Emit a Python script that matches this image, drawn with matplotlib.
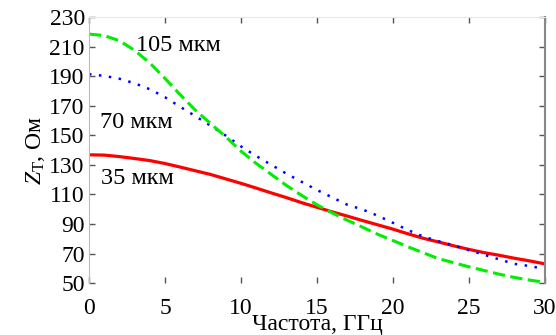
import numpy as np
import matplotlib
matplotlib.use("Agg")
import matplotlib.pyplot as plt

plt.rcParams['font.family'] = ['Liberation Serif', 'DejaVu Serif']
plt.rcParams['mathtext.fontset'] = 'custom'
plt.rcParams['mathtext.rm'] = 'Liberation Serif'
plt.rcParams['mathtext.it'] = 'Liberation Serif:italic'

# frequency, GHz
freq = np.arange(0, 31, 1)

# 105 um
z_105 = [218.5, 217.5, 214, 207.5, 199, 188.5, 177.5, 167, 158, 149, 139.3,
         131, 123.5, 116, 109.3, 103, 97.5, 92.5, 87.8, 83, 78.8,
         74.5, 70.5, 66.5, 63.8, 61, 58.5, 56, 53.8, 52, 50.5]
# 70 um
z_70 = [191.4, 190.2, 188.3, 185.2, 181.2, 175.8, 169.3, 163, 156.5, 149.8, 142.5,
        136, 130, 124, 118.5, 113, 108, 103, 99.8, 95.6, 90.8,
        85.8, 81.5, 78.3, 75.5, 72.2, 69.2, 66, 63, 61.5, 59.5]
# 35 um
z_35 = [136.8, 136.6, 135.6, 134.3, 132.9, 130.9, 128.5, 126, 123.5, 120.5, 117.5,
        114.3, 111, 107.8, 104.4, 101.3, 98.2, 95.3, 92.3, 89.4, 86.5,
        83.3, 80.3, 77.8, 75.2, 72.8, 70.6, 68.8, 66.8, 65, 63]

labels = ["105 мкм", "70 мкм", "35 мкм"]
label_pos = [(3.1, 211), (0.7, 159), (0.8, 121)]

fig = plt.figure(figsize=(5.56, 3.35), dpi=100)
ax = fig.add_axes([0.160, 0.155, 0.820, 0.794])

ax.plot(freq, z_35, color='#ff0000', lw=2.3, solid_capstyle='butt')
ax.plot(freq, z_70, color='#0000ff', lw=1.8, linestyle=(0, (1, 3)))
ax.plot(freq, z_105, color='#00ee00', lw=2.2, linestyle=(0, (4, 1.8)))

for txt, (x, y) in zip(labels, label_pos):
    ax.text(x, y, txt, fontsize=17.5, va='center', ha='left')

ax.set_xlim(0, 30)
ax.set_ylim(50, 230)
ax.set_xticks(np.arange(0, 31, 5))
ax.set_yticks(np.arange(50, 231, 20))
ax.tick_params(direction='in', length=4, width=1, colors='#555555',
               labelcolor='black', labelsize=17, top=True, right=True, pad=3)
ax.tick_params(axis='x', pad=11)

ax.spines['left'].set_color('#bbbbbb')
ax.spines['top'].set_color('#e8e8e8')
ax.spines['right'].set_color('#888888')
ax.spines['right'].set_linewidth(1.5)
ax.spines['bottom'].set_visible(False)

ax.set_xlabel("Частота, ГГц", fontsize=17, va='top')
ax.xaxis.set_label_coords(0.5, -0.118)
ax.set_ylabel(r"$Z_\mathrm{Т}$, Ом", fontsize=17, labelpad=2)

fig.savefig("out.png", dpi=100)
